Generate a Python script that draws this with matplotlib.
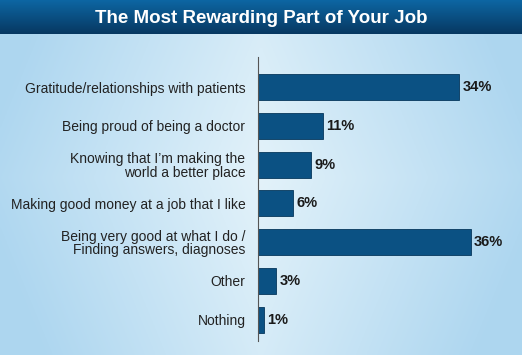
import matplotlib
matplotlib.use('Agg')
import matplotlib.pyplot as plt
import numpy as np

plt.rcParams['font.family'] = ['Liberation Sans', 'DejaVu Sans']

# data, top to bottom
labels = ['Gratitude/relationships with patients',
          'Being proud of being a doctor',
          'Knowing that I\u2019m making the\nworld a better place',
          'Making good money at a job that I like',
          'Being very good at what I do /\nFinding answers, diagnoses',
          'Other',
          'Nothing']
values = [34, 11, 9, 6, 36, 3, 1]
title = 'The Most Rewarding Part of Your Job'

W, H = 522, 355
fig = plt.figure(figsize=(W / 100, H / 100), dpi=100)

# background gradient (light centre, darker edges)
bg = fig.add_axes([0, 0, 1, 1])
xx, yy = np.meshgrid(np.linspace(-1, 1, 300), np.linspace(-1, 1, 200))
r = np.clip(np.abs(xx) * 0.9 + 0.25 * np.abs(yy), 0, 1)
light = np.array([0.89, 0.95, 0.98])
dark = np.array([0.68, 0.84, 0.94])
img = light[None, None, :] * (1 - r[..., None]) + dark[None, None, :] * r[..., None]
bg.imshow(img, extent=[0, 1, 0, 1], aspect='auto')
bg.set_xlim(0, 1)
bg.set_ylim(0, 1)
bg.axis('off')

# title bar
tb = fig.add_axes([0, 1 - 34 / H, 1, 34 / H])
g = np.linspace(0, 1, 50)[:, None]
top = np.array([0.05, 0.40, 0.64])
bot = np.array([0.03, 0.22, 0.38])
tb.imshow(top[None, None, :] * (1 - g[..., None]) + bot[None, None, :] * g[..., None],
          extent=[0, 1, 0, 1], aspect='auto')
tb.axis('off')
tb.text(0.5, 0.45, title, color='white', fontsize=13.5, fontweight='bold',
        ha='center', va='center')

# bar chart axes
x0, x1 = 258, 522
y_top, y_bot = 57, 341
ax = fig.add_axes([x0 / W, 1 - y_bot / H, (x1 - x0) / W, (y_bot - y_top) / H])
ax.patch.set_alpha(0)
ypos = np.arange(len(values))
ax.barh(ypos, values, height=0.67, color='#0b5183', edgecolor='#06375c', linewidth=0.6)
for y, v in zip(ypos, values):
    ax.text(v + 0.6, y, f'{v}%', va='center', ha='left', fontsize=10.5,
            fontweight='bold', color='#1a1a1a')
ax.set_xlim(0, 44.7)
ax.set_ylim(len(values) - 0.45, -0.78)
ax.set_yticks(ypos)
ax.set_yticklabels(labels, fontsize=10, color='#222222', linespacing=0.95)
ax.tick_params(axis='y', length=0, pad=9)
ax.set_xticks([])
for s in ['top', 'right', 'bottom']:
    ax.spines[s].set_visible(False)
ax.spines['left'].set_color('#555555')
ax.spines['left'].set_linewidth(0.8)

fig.savefig('out.png', dpi=100)
